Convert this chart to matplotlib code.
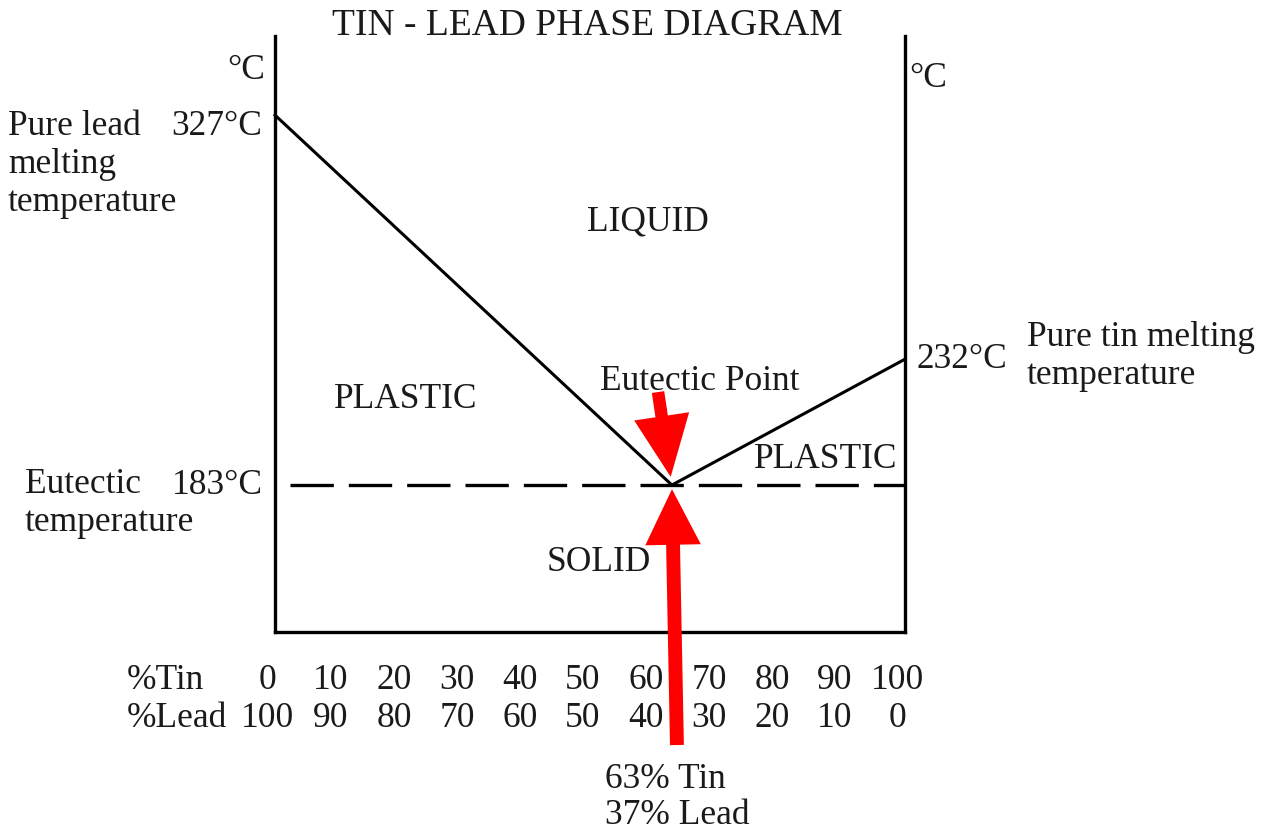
import matplotlib
matplotlib.use("Agg")
import matplotlib.pyplot as plt
import matplotlib.transforms as mtransforms
from matplotlib.patches import FancyArrowPatch, ArrowStyle

# Phase diagram values
PB_MELT = 327        # pure lead melting point, °C
SN_MELT = 232        # pure tin melting point, °C
EUT_TEMP = 183       # eutectic temperature, °C
EUT_TIN = 63         # eutectic composition, % tin
liquidus_tin = [0, EUT_TIN, 100]
liquidus_temp = [PB_MELT, EUT_TEMP, SN_MELT]
tin_ticks = [0, 10, 20, 30, 40, 50, 60, 70, 80, 90, 100]
lead_ticks = [100 - t for t in tin_ticks]

W, H = 1277, 832
FONT = "Liberation Serif"
FS = 25.5

plt.rcParams["font.family"] = [FONT, "DejaVu Serif"]

fig = plt.figure(figsize=(W / 100, H / 100), dpi=100)
ax = fig.add_axes([275 / W, (H - 632) / H, 630 / W, 596 / H])
ax.set_xlim(0, 100)
ax.set_ylim(125.8, 357.8)

for side in ("left", "right", "bottom"):
    ax.spines[side].set_linewidth(2.4)
    ax.spines[side].set_color("black")
ax.spines["top"].set_visible(False)
ax.set_xticks([])
ax.set_yticks([])

# liquidus and eutectic line
ax.plot(liquidus_tin, liquidus_temp, color="black", lw=2.2,
        solid_joinstyle="miter", clip_on=False)
ax.plot([0, 100], [EUT_TEMP, EUT_TEMP], color="black", lw=2.4,
        linestyle=(13, (13, 4.5)))


def ftext(x, y, s, ha="left", size=FS):
    fig.text(x / W, 1 - y / H, s, ha=ha, va="baseline", fontsize=size,
             color="#1a1a1a")


ftext(587, 35, "TIN - LEAD PHASE DIAGRAM", ha="center", size=27)
ftext(265, 79, "°C", ha="right")
ftext(909, 87, "°C")

ftext(8, 135, "Pure lead")
ftext(8, 173, "melting")
ftext(8, 211, "temperature")
ftext(262, 135, "327°C", ha="right")

ftext(25, 493, "Eutectic")
ftext(25, 531, "temperature")
ftext(263, 494, "183°C", ha="right")

ftext(916, 368, "232°C")
ftext(1027, 346, "Pure tin melting")
ftext(1027, 384, "temperature")

ftext(648, 231, "LIQUID", ha="center")
ftext(406, 408, "PLASTIC", ha="center")
ftext(700, 390, "Eutectic Point", ha="center")
ftext(826, 468, "PLASTIC", ha="center")
ftext(599, 571, "SOLID", ha="center")

ftext(605, 788, "63% Tin")
ftext(605, 824, "37% Lead")

# composition scales under the axis
ftext(127, 689, "%Tin")
ftext(127, 727, "%Lead")
row_tf = mtransforms.blended_transform_factory(ax.transData, fig.transFigure) + \
    mtransforms.ScaledTranslation(-7 / 100, 0, fig.dpi_scale_trans)
for t, pb in zip(tin_ticks, lead_ticks):
    ax.text(t, 1 - 689 / H, str(t), transform=row_tf, ha="center",
            va="baseline", fontsize=FS, color="#1a1a1a", clip_on=False)
    ax.text(t, 1 - 727 / H, str(pb), transform=row_tf, ha="center",
            va="baseline", fontsize=FS, color="#1a1a1a", clip_on=False)

# red arrows pointing at the eutectic point
down = FancyArrowPatch((60.8, 219.2), (EUT_TIN, EUT_TEMP),
                       arrowstyle=ArrowStyle.Simple(head_length=44, head_width=40,
                                                    tail_width=9),
                       shrinkA=0, shrinkB=6, color="#ff0000", lw=0,
                       clip_on=False, zorder=5)
up = FancyArrowPatch((63.8, 81.8), (EUT_TIN, EUT_TEMP),
                     arrowstyle=ArrowStyle.Simple(head_length=40, head_width=40,
                                                  tail_width=10),
                     shrinkA=0, shrinkB=3, color="#ff0000", lw=0,
                     clip_on=False, zorder=5)
ax.add_patch(down)
ax.add_patch(up)

fig.savefig("out.png", dpi=100, facecolor="white")
